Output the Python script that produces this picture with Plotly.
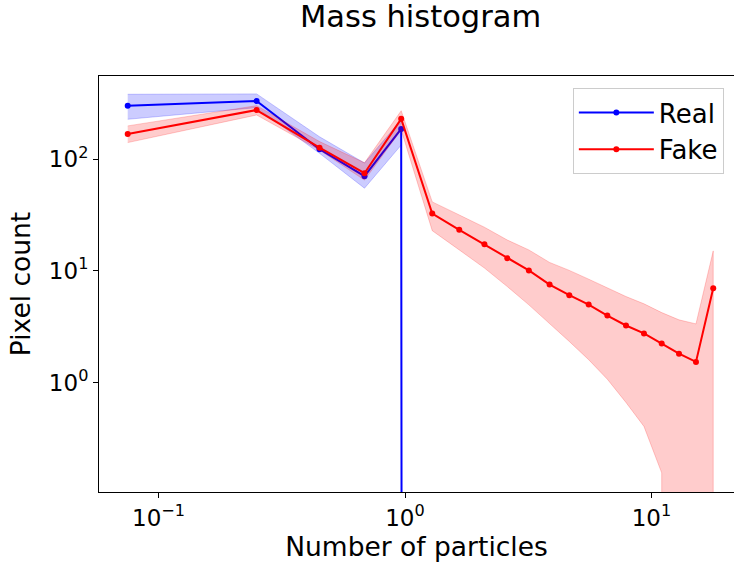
import plotly.graph_objects as go

# ---- data ----
bin_centers = [0.075, 0.25, 0.45, 0.685, 0.965, 1.29, 1.66, 2.10, 2.60, 3.18,
               3.86, 4.64, 5.56, 6.62, 7.88, 9.32, 11.0, 12.93, 15.15, 17.8]

real_mean = [302, 333, 123, 70.5, 187, 0, 0, 0, 0, 0, 0, 0, 0, 0, 0, 0, 0, 0, 0, 0]
real_upper = [382, 385, 159, 92.6, 225, 0, 0, 0, 0, 0, 0, 0, 0, 0, 0, 0, 0, 0, 0, 0]
real_lower = [228, 290, 113, 55, 134, 0, 0, 0, 0, 0, 0, 0, 0, 0, 0, 0, 0, 0, 0, 0]

fake_mean = [168, 276, 127, 75, 230, 32.6, 23.3, 17.3, 13.0, 10.1,
             7.54, 6.06, 4.99, 3.98, 3.24, 2.75, 2.23, 1.81, 1.53, 7.0]
fake_upper = [199, 302, 144, 93, 272, 41.5, 31.7, 24.6, 18.9, 15.4,
              11.9, 10.1, 8.43, 7.0, 5.89, 5.07, 4.23, 3.64, 3.35, 15.1]
fake_lower = [141, 249, 121, 65, 183, 22.9, 15.4, 10.6, 7.23, 4.96,
              3.40, 2.33, 1.60, 1.07, 0.662, 0.404, 0.155, 0, 0, 0]

x_tick_vals = [0.1, 1, 10]
x_tick_text = ["10<sup>−1</sup>", "10<sup>0</sup>", "10<sup>1</sup>"]
y_tick_vals = [1, 10, 100]
y_tick_text = ["10<sup>0</sup>", "10<sup>1</sup>", "10<sup>2</sup>"]


def clip_log(vals):
    # emulate matplotlib's clipping of non-positive values on a log axis
    return [v if v > 0 else 1e-300 for v in vals]


FONT = "DejaVu Sans"
fig = go.Figure()


def add_series(name, mean, upper, lower, color, fill):
    fig.add_trace(go.Scatter(
        x=bin_centers + bin_centers[::-1],
        y=clip_log(upper) + clip_log(lower)[::-1],
        fill="toself", fillcolor=fill,
        line=dict(color=fill, width=1),
        mode="lines", showlegend=False, hoverinfo="skip"))
    fig.add_trace(go.Scatter(
        x=bin_centers, y=clip_log(mean), name=name,
        mode="lines+markers",
        line=dict(color=color, width=2),
        marker=dict(color=color, size=6)))


add_series("Real", real_mean, real_upper, real_lower, "#0000ff", "rgba(0,0,255,0.2)")
add_series("Fake", fake_mean, fake_upper, fake_lower, "#ff0000", "rgba(255,0,0,0.2)")

axis_common = dict(
    type="log", showgrid=False, zeroline=False,
    showline=True, linecolor="black", linewidth=1, mirror=True,
    ticks="outside", ticklen=5, tickwidth=1, tickcolor="black",
    tickfont=dict(family=FONT, size=23, color="black"),
)

fig.update_layout(
    width=734, height=566,
    margin=dict(l=99, r=0, t=76, b=74),
    paper_bgcolor="white", plot_bgcolor="white",
    font=dict(family=FONT, color="black"),
    title=dict(text="Mass histogram", x=0.573, xanchor="center",
               y=0.972, yanchor="middle",
               font=dict(family=FONT, size=30.5, color="black")),
    xaxis=dict(axis_common, range=[-1.2414, 1.3347],
               tickvals=x_tick_vals, ticktext=x_tick_text,
               title=dict(text="Number of particles", standoff=6,
                          font=dict(family=FONT, size=26.5, color="black"))),
    yaxis=dict(axis_common, range=[-0.981, 2.7457],
               tickvals=y_tick_vals, ticktext=y_tick_text,
               title=dict(text="Pixel count", standoff=10,
                          font=dict(family=FONT, size=26.5, color="black"))),
    legend=dict(x=0.984, y=0.971, xanchor="right", yanchor="top",
                bgcolor="rgba(255,255,255,0.8)", bordercolor="#cccccc",
                borderwidth=1, font=dict(family=FONT, size=26, color="black"),
                itemwidth=75),
)

fig.write_html("out.html", config={"displayModeBar": False},
               post_script="document.body.style.margin='0';")
